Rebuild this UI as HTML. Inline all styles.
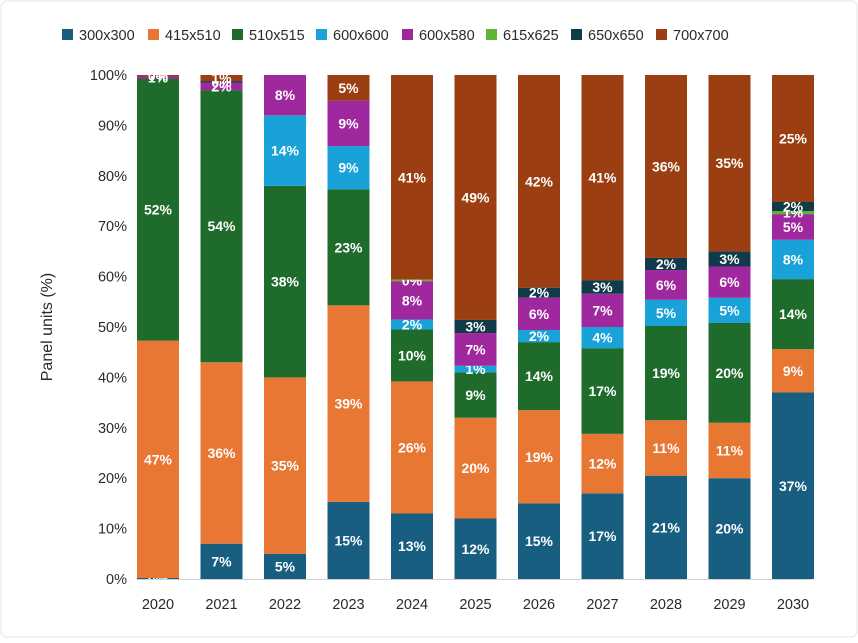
<!DOCTYPE html>
<html><head><meta charset="utf-8"><style>
body{margin:0;background:#fff;font-family:"Liberation Sans",sans-serif}
svg text{font-family:"Liberation Sans",sans-serif}
</style></head><body>
<svg id="chart" width="858" height="638" xmlns="http://www.w3.org/2000/svg">
<rect x="1" y="1" width="856" height="636" rx="6" fill="#fff" stroke="#e4e4e4"/>
<g id="legend"></g>
<g id="yaxis"></g>
<g id="bars"></g>
<g id="xaxis"></g>
<text x="52" y="327" transform="rotate(-90 52 327)" text-anchor="middle" font-size="16" fill="#2a2a2a">Panel units (%)</text>
</svg>
<script>
const years = ["2020","2021","2022","2023","2024","2025","2026","2027","2028","2029","2030"];
const seriesNames = ["300x300","415x510","510x515","600x600","600x580","615x625","650x650","700x700"];
const s300 = [0.2, 7, 5, 15.3, 13, 12, 15, 17, 20.5, 20, 37];
const s415 = [47.1, 36, 35, 39, 26.2, 20, 18.5, 11.8, 11, 11, 8.6];
const s510 = [52, 54, 38, 23, 10.3, 9, 13.5, 17, 18.7, 19.8, 13.9];
const s600 = [0, 0, 14, 8.6, 2, 1.3, 2.4, 4.2, 5.2, 5, 7.8];
const s580 = [0.5, 1.5, 8, 9, 7.6, 6.5, 6.4, 6.6, 5.9, 6.2, 5.1];
const s615 = [0, 0, 0, 0, 0.3, 0, 0, 0, 0, 0, 0.6];
const s650 = [0, 0.3, 0, 0, 0, 2.6, 2, 2.7, 2.4, 3, 1.8];
const s700 = [0.2, 1.2, 0, 5.1, 40.6, 48.6, 42.2, 40.7, 36.3, 35, 25.2];
const yTicks = [0,10,20,30,40,50,60,70,80,90,100];
const colors = ["#175e80","#e87733","#1e6b2b","#18a2d8","#a0289f","#5ab633","#113b4b","#9b3e12"];
const series = [s300,s415,s510,s600,s580,s615,s650,s700];

const NS="http://www.w3.org/2000/svg";
const y0=579, y100=75, xStart=158, xStep=63.5, bw=42;
const yScale=v=>y0-(y0-y100)*v/100;
const xScale=i=>xStart+i*xStep;
function mk(tag,attrs,parent){const e=document.createElementNS(NS,tag);for(const k in attrs)e.setAttribute(k,attrs[k]);parent.appendChild(e);return e;}

const legend=document.getElementById('legend');
const legX=[62,148,232,316,402,486,571,656];
seriesNames.forEach((n,i)=>{
  const g=mk('g',{},legend);
  
  
  mk('rect',{x:legX[i],y:29,width:11,height:11,fill:colors[i]},g);
  const t=mk('text',{x:legX[i]+17,y:40,'font-size':14.5,fill:'#2a2a2a'},g);
  t.textContent=n;
});

const ya=document.getElementById('yaxis');
yTicks.forEach(v=>{
  const t=mk('text',{x:127,y:yScale(v)+5,'text-anchor':'end','font-size':14.5,fill:'#2a2a2a'},ya);
  
  
  t.textContent=v+'%';
});

const bars=document.getElementById('bars');
years.forEach((yr,i)=>{
  let cum=0;
  const cx=xScale(i);
  series.forEach((s,j)=>{
    const v=s[i];
    const yt=yScale(cum+v), yb=yScale(cum);
    if(v>0){
      const r=mk('rect',{x:cx-bw/2,y:yt,width:bw,height:yb-yt,fill:colors[j]},bars);
      
      
      const t=mk('text',{x:cx,y:(yt+yb)/2+5,'text-anchor':'middle','font-size':14,'font-weight':'bold',fill:'#fff'},bars);
      
      
      t.textContent=Math.round(v)+'%';
    }
    cum+=v;
  });
});

const xa=document.getElementById('xaxis');
mk('line',{x1:136,x2:812,y1:y0+0.5,y2:y0+0.5,stroke:'#d0d0d0'},xa);
years.forEach((yr,i)=>{
  const t=mk('text',{x:xScale(i),y:609,'text-anchor':'middle','font-size':14.5,fill:'#2a2a2a'},xa);
  
  
  t.textContent=yr;
});
</script>
</body></html>
